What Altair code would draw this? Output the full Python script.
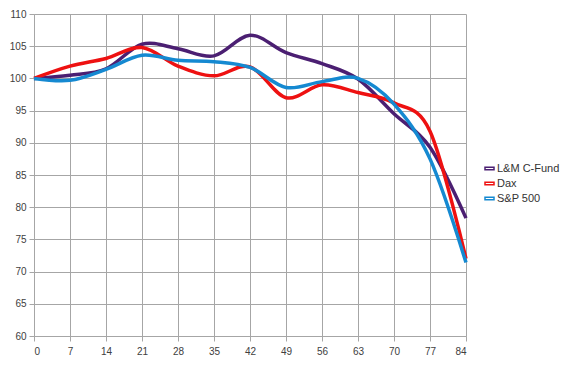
import altair as alt
import pandas as pd

days = [0, 7, 14, 21, 28, 35, 42, 49, 56, 63, 70, 77, 84]
lm_cfund = [100, 100.5, 101.5, 105.3, 104.6, 103.5, 106.7, 104.0, 102.3, 99.9, 94.5, 89.3, 78.3]
dax = [100, 101.9, 103.1, 104.8, 101.9, 100.4, 101.8, 97.0, 99.0, 97.8, 96.2, 91.8, 72.0]
sp500 = [100, 99.7, 101.4, 103.6, 102.8, 102.6, 101.7, 98.6, 99.5, 100.0, 96.0, 87.5, 71.4]

series_names = ["L&M C-Fund", "Dax", "S&P 500"]
series_colors = ["#4B1F72", "#EE1111", "#1589D1"]
x_ticks = list(range(0, 85, 7))
y_ticks = list(range(60, 111, 5))

rows = []
for name, vals in zip(series_names, [lm_cfund, dax, sp500]):
    for d, v in zip(days, vals):
        rows.append({"day": d, "value": v, "series": name, "order": series_names.index(name)})
df = pd.DataFrame(rows)

chart = alt.Chart(df).mark_line(
    interpolate="cardinal", tension=0, strokeWidth=3.5
).encode(
    x=alt.X("day:Q", scale=alt.Scale(domain=[0, 84], nice=False),
            axis=alt.Axis(values=x_ticks, title=None, format="d")),
    y=alt.Y("value:Q", scale=alt.Scale(domain=[60, 110], nice=False, zero=False),
            axis=alt.Axis(values=y_ticks, title=None, format="d")),
    color=alt.Color("series:N",
                    scale=alt.Scale(domain=series_names, range=series_colors),
                    sort=series_names,
                    legend=alt.Legend(title=None, orient="none", legendX=450, legendY=149,
                                      symbolType="M-1,-0.3H1V0.3H-1Z", symbolSize=81,
                                      symbolStrokeWidth=1.5,
                                      labelFont="Liberation Sans", labelFontSize=11,
                                      labelColor="#333333", rowPadding=3, symbolOffset=0,
                                      labelOffset=2)),
    order=alt.Order("order:Q"),
).properties(
    width=432, height=322,
    autosize=alt.AutoSizeParams(type="none"),
    padding={"left": 26, "top": 6, "right": 95, "bottom": 20},
).configure_axis(
    labelFont="Liberation Sans", labelFontSize=10, labelColor="#404040",
    gridColor="#A6A6A6", gridOpacity=1, domainColor="#A6A6A6", tickColor="#A6A6A6",
    tickSize=5, labelPadding=3,
).configure_axisX(labelPadding=5).configure_view(stroke=None)

chart.save("out.html", embed_options={"renderer": "svg", "actions": False})
